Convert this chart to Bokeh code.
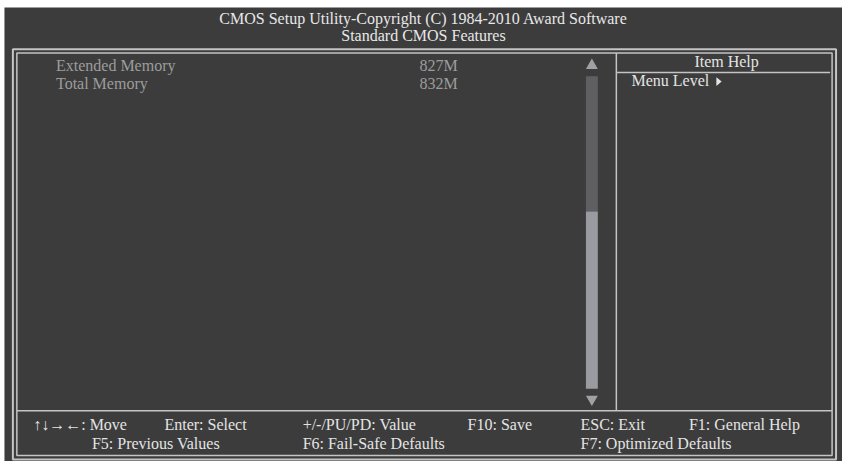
from bokeh.plotting import figure
from bokeh.models import Range1d, ColumnDataSource
from bokeh.core.properties import value
from bokeh.embed import file_html
from bokeh.resources import INLINE

# ---- content ----
title_lines = ["CMOS Setup Utility-Copyright (C) 1984-2010 Award Software",
               "Standard CMOS Features"]
item_names = ["Extended Memory", "Total Memory"]
item_values = ["827M", "832M"]
help_title = "Item Help"
help_lines = ["Menu Level"]
keys_row1 = ["\u2191\u2193\u2192\u2190: Move", "Enter: Select", "+/-/PU/PD: Value",
             "F10: Save", "ESC: Exit", "F1: General Help"]
keys_row2 = ["F5: Previous Values", "F6: Fail-Safe Defaults", "F7: Optimized Defaults"]

# ---- layout (reference pixel coordinates) ----
W, H = 850, 469
FW, FH = 842, 461
BG = "#3c3c3c"
LINE = "#c4c4c4"
FONT = value("Liberation Serif")
FS = "16px"
DY = -6  # text baseline correction

title_y = [24, 41.5]
item_x, value_x = 56, 423
item_y = [71.7, 90.5]
help_cx, help_title_y = 733, 68.5
help_x, help_y = [637], [87.5]
row1_x = [33, 165.5, 305, 471.5, 585.5, 695]
row2_x = [92.3, 305, 585.5]
row1_y, row2_y = 437, 456.5

outer = dict(l=12.5, r=843.5, t=49.5, b=467)
inner = dict(l=16.5, r=839.5, t=53.5, b=463)
sep_y = 417.3
sep_x = 621.7
help_line_y = 73.3
sb_l, sb_r = 591, 603
track_t, thumb_t, thumb_b = 77, 214.7, 395
up_tri = (59, 69.7)
dn_tri = (402, 412.5)

p = figure(width=FW, height=FH, x_range=Range1d(0, W), y_range=Range1d(H, 0),
           output_backend="svg", toolbar_location=None, min_border=0)
p.axis.visible = False
p.grid.visible = False
p.outline_line_color = None
p.background_fill_color = "white"
p.border_fill_color = "white"

# dark screen
p.quad(left=[4], right=[W], top=[7], bottom=[H], fill_color=BG, line_color=None)

# frames
p.quad(left=[outer["l"]], right=[outer["r"]], top=[outer["t"]], bottom=[outer["b"]],
       fill_alpha=0, line_color=LINE, line_width=2)
p.quad(left=[inner["l"]], right=[inner["r"]], top=[inner["t"]], bottom=[inner["b"]],
       fill_alpha=0, line_color=LINE, line_width=1.5)
p.segment(x0=[inner["l"], sep_x, sep_x], y0=[sep_y, inner["t"], help_line_y],
          x1=[inner["r"], sep_x, inner["r"] - 2], y1=[sep_y, sep_y, help_line_y],
          line_color=LINE, line_width=1.5)

# scrollbar
p.quad(left=[sb_l], right=[sb_r], top=[track_t], bottom=[thumb_t],
       fill_color="#5f5f62", line_color=None)
p.quad(left=[sb_l], right=[sb_r], top=[thumb_t], bottom=[thumb_b],
       fill_color="#9a9ba0", line_color=None)
cx = (sb_l + sb_r) / 2
p.patches(xs=[[sb_l, sb_r, cx], [sb_l, sb_r, cx]],
          ys=[[up_tri[1], up_tri[1], up_tri[0]], [dn_tri[0], dn_tri[0], dn_tri[1]]],
          fill_color="#a0a1a5", line_color=None)
# menu level arrow
p.patches(xs=[[722.7, 722.7, 728]], ys=[[78, 87, 82.5]], fill_color="#e6e6e6", line_color=None)

def txt(xs, ys, texts, color, align="left"):
    src = ColumnDataSource(dict(x=xs, y=[v + DY for v in ys], t=texts))
    p.text(x="x", y="y", text="t", source=src, text_font=FONT, text_font_size=FS,
           text_color=color, text_align=align, text_baseline="alphabetic")

txt([W / 2 + 2] * 2, title_y, title_lines, "#e8e8e8", "center")
txt([item_x] * len(item_names), item_y, item_names, "#9c9c9c")
txt([value_x] * len(item_values), item_y, item_values, "#9c9c9c")
txt([help_cx], [help_title_y], [help_title], "#e4e4e4", "center")
txt(help_x, help_y, help_lines, "#e4e4e4")
txt(row1_x, [row1_y] * len(row1_x), keys_row1, "#e4e4e4")
txt(row2_x, [row2_y] * len(row2_x), keys_row2, "#e4e4e4")

open("out.html", "w").write(file_html(p, INLINE))
